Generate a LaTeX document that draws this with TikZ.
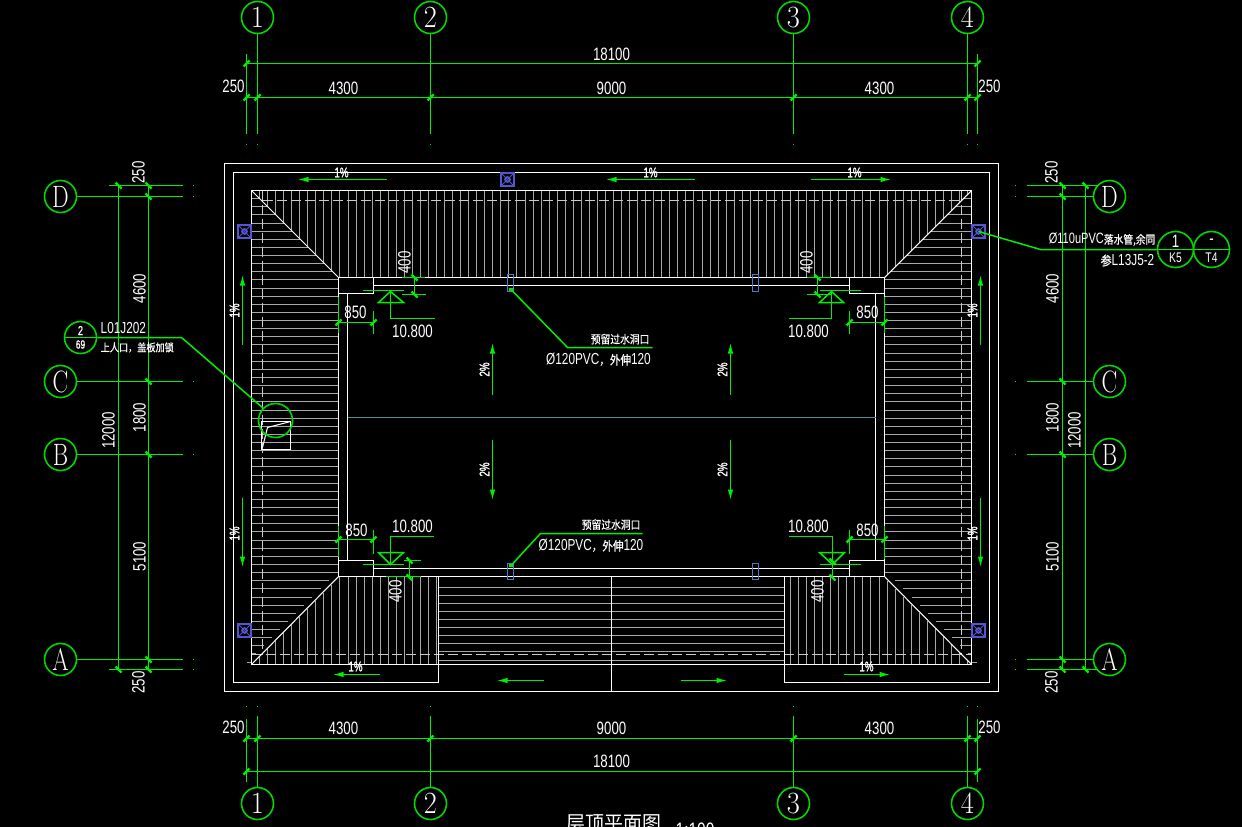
\documentclass[tikz,border=0pt]{standalone}
\usepackage{fontspec}
\usepackage{graphicx}
\usetikzlibrary{arrows.meta}
\newfontfamily\cadf[FakeStretch=0.74]{Liberation Sans}
\newfontfamily\cadb[FakeStretch=0.70,FakeBold=1.2]{Liberation Sans}
\newfontfamily\cjkf[FakeStretch=0.85,FakeBold=0.8]{Noto Sans CJK SC}
\newfontfamily\cjkt[FakeStretch=0.95]{Noto Sans CJK SC}
\newcommand{\dimf}{\cadf\fontsize{18}{18}\selectfont}
\newcommand{\smf}{\cadb\fontsize{14}{14}\selectfont}
\newcommand{\dg}[1]{\scalebox{.92}[1]{#1}}
\newcommand{\lt}[1]{\scalebox{.76}[1]{#1}}
\definecolor{gl}{HTML}{00EE00}
\definecolor{gc}{HTML}{00D800}
\definecolor{hatch}{HTML}{A8A8A8}
\definecolor{blu}{HTML}{5555D0}
\definecolor{pipeb}{HTML}{5078D0}
\definecolor{teal2}{HTML}{4F8F8F}
\tikzset{
 gline/.style={draw=gl,line width=1.5bp},
 wline/.style={draw=white,line width=1.05bp},
 hline/.style={draw=hatch,line width=1.05bp},
 dline/.style={draw=hatch!60!white,line width=1.05bp,dash pattern=on 10bp off 4bp},
 tk/.style={draw=gl,line width=2.4bp},
 axisc/.style={circle,draw=gc,line width=1.6bp,minimum size=32bp,inner sep=0pt,text=white,font=\fontsize{31}{31}\selectfont},
 dimt/.style={text=white,inner sep=0pt,font=\dimf},
 pct/.style={text=white,inner sep=0pt,font=\smf},
 notet/.style={text=white,inner sep=0pt},
 slope/.style={draw=gl,line width=1.5bp,-{Latex[length=11bp,width=5.5bp]}},
 blubox/.style={draw=blu,line width=1.2bp},
 pipe/.style={draw=pipeb,line width=1.05bp},
 dotm/.style={fill=gl},
}
\newcommand{\tkf}[2]{\draw[tk] (#1-3,#2+3) -- (#1+3,#2-3);}
\newcommand{\tkb}[2]{\draw[tk] (#1-3,#2-3) -- (#1+3,#2+3);}
\newcommand{\blue}[2]{\draw[blubox] (#1-6.5,#2-6.5) rectangle (#1+6.5,#2+6.5);
 \draw[blubox,line width=1bp] (#1-6.5,#2-6.5) -- (#1+6.5,#2+6.5) (#1-6.5,#2+6.5) -- (#1+6.5,#2-6.5);
 \draw[blubox,line width=1.4bp] (#1,#2) circle (2.6);}
\newcommand{\mydot}[2]{\fill[dotm] (#1-.7,#2-.7) rectangle (#1+.7,#2+.7);}
\begin{document}
\begin{tikzpicture}[x=1bp,y=-1bp]
\useasboundingbox (0,0) rectangle (1242,827);
\fill[black] (0,0) rectangle (1242,827);
\begin{scope}[shift={(0.5,0.5)}]
% --- hatching
\foreach \i in {1,...,89}{
 \pgfmathsetmacro\hx{round(251+8.045*\i)}
 \pgfmathsetmacro\ye{\hx<338 ? 190+(\hx-251) : (\hx>884 ? 190+(971-\hx) : 277)}
 \draw[hline] (\hx,190) -- (\hx,\ye);
 \pgfmathparse{(\hx<438 || \hx>784) ? 1 : 0}
 \ifnum\pgfmathresult>0
  \pgfmathsetmacro\ys{\hx<338 ? 664-(\hx-251) : (\hx>884 ? 664-(971-\hx) : 576)}
  \draw[hline] (\hx,\ys) -- (\hx,664);
 \fi
}
\foreach \i in {1,...,58}{
 \pgfmathsetmacro\hy{round(190+8.13*\i)}
 \pgfmathsetmacro\xa{\hy>576 ? 332-(\hy-576) : min(338,251+\hy-190)}
 \pgfmathsetmacro\xb{971-(\xa-251)}
 \draw[hline] (251,\hy) -- (\xa,\hy);
 \draw[hline] (\xb,\hy) -- (971,\hy);
}
\foreach \yy in {587,595,603,611,619,627,635,643,651,660}{
 \draw[hline] (438,\yy) -- (784,\yy);
}
\draw[dline] (262,200) -- (961,200);
\draw[dline] (251,654) -- (971,654);
\draw[dline] (262,190) -- (262,654);
\draw[dline] (961,190) -- (961,654);
% --- roof outlines
\draw[wline] (224,163) rectangle (998,691);
\draw[wline] (438,576) -- (438,682) -- (233,682) -- (233,172) -- (989,172) -- (989,682) -- (784,682) -- (784,576);
\draw[wline] (251,190) rectangle (971,664);
\draw[wline] (611,576) -- (611,691);
\draw[wline] (251,190) -- (338,277);
\draw[wline] (971,190) -- (884,277);
\draw[wline] (251,664) -- (338,576);
\draw[wline] (971,664) -- (884,576);
\draw[wline] (338,277) -- (884,277) -- (884,576) -- (338,576) -- cycle;
\draw[wline] (338,293) -- (373,293) -- (373,277);
\draw[wline] (884,293) -- (849,293) -- (849,277);
\draw[wline] (338,560) -- (373,560) -- (373,576);
\draw[wline] (884,560) -- (849,560) -- (849,576);
\draw[wline] (373,285) -- (849,285);
\draw[wline] (373,568) -- (849,568);
\draw[wline] (347,293) -- (347,560);
\draw[wline] (875,293) -- (875,560);
\draw[draw=teal2,line width=1.05bp] (347,417) -- (875,417);
% --- drains and pipes
\blue{507}{179}\blue{244}{231}\blue{978}{231}\blue{244}{630}\blue{978}{630}
\draw[pipe] (507,274) rectangle (513,291);
\draw[pipe] (752,274) rectangle (758,291);
\draw[pipe] (507,563) rectangle (513,579);
\draw[pipe] (752,563) rectangle (758,579);
% --- hatch opening
\draw[wline] (261,421) rectangle (290,449);
\draw[wline] (290,421) -- (267,427) -- (262,447);
% --- axis bubbles top
\foreach \nm/\xx/\lb in {t1/257/1,t2/430/2,t3/793/3,t4/967/4}{
 \node[axisc] (\nm) at (\xx,17) {\dg{\lb}};
 \draw[gline] (\nm.south) -- (\nm.south |- 0,133);
 \mydot{\xx}{144}
}
\foreach \nm/\xx/\lb in {b1/257/1,b2/430/2,b3/793/3,b4/967/4}{
 \node[axisc] (\nm) at (\xx,803) {\dg{\lb}};
 \draw[gline] (\nm.north) -- (\nm.north |- 0,715);
 \mydot{\xx}{706}
}
\mydot{246}{144}\mydot{977}{144}\mydot{246}{706}\mydot{977}{706}
\draw[gline] (246,53) -- (246,133);
\draw[gline] (977,53) -- (977,133);
\draw[gline] (246,718) -- (246,781);
\draw[gline] (977,718) -- (977,781);
% horizontal dimension lines
\draw[gline] (246,63) -- (977,63);
\draw[gline] (246,97) -- (977,97);
\draw[gline] (246,738) -- (977,738);
\draw[gline] (246,771) -- (977,771);
\foreach \yy in {63,771}{\tkf{246}{\yy}\tkf{977}{\yy}}
\foreach \yy in {97,738}{\foreach \xx in {246,257,430,793,967,977}{\tkf{\xx}{\yy}}}
\node[dimt] (d1) at (611,54) {18100};
\node[dimt] (d2) at (343,88) {4300};
\node[dimt] (d3) at (611,88) {9000};
\node[dimt] (d4) at (879,88) {4300};
\node[dimt] (d5) at (233,86) {250};
\node[dimt] (d6) at (989,86) {250};
\node[dimt] (d7) at (233,727) {250};
\node[dimt] (d8) at (343,728) {4300};
\node[dimt] (d9) at (611,728) {9000};
\node[dimt] (d10) at (879,728) {4300};
\node[dimt] (d11) at (989,727) {250};
\node[dimt] (d12) at (611,761) {18100};
% --- axis bubbles left / right
\foreach \nm/\yy/\lb in {lD/196/D,lC/381/C,lB/454/B,lA/659/A}{
 \node[axisc] (\nm) at (60,\yy) {\lt{\lb}};
 \draw[gline] (\nm.east) -- (182,\yy);
 \mydot{193}{\yy}
 \tkb{148}{\yy}
}
\foreach \nm/\yy/\lb in {rD/196/D,rC/381/C,rB/454/B,rA/659/A}{
 \node[axisc] (\nm) at (1109,\yy) {\lt{\lb}};
 \draw[gline] (\nm.west) -- (1026,\yy);
 \mydot{1015}{\yy}
 \tkb{1062}{\yy}
}
\draw[gline] (108,185) -- (182,185);
\draw[gline] (108,669) -- (182,669);
\draw[gline] (1026,185) -- (1097,185);
\draw[gline] (1026,669) -- (1097,669);
\mydot{193}{185}\mydot{193}{669}\mydot{1015}{185}\mydot{1015}{669}
\draw[gline] (118,185) -- (118,669);
\draw[gline] (148,185) -- (148,669);
\draw[gline] (1062,185) -- (1062,669);
\draw[gline] (1085,185) -- (1085,669);
\foreach \xx in {118,148,1062,1085}{\tkb{\xx}{185}\tkb{\xx}{669}}
\node[dimt,rotate=90] (e1) at (138,172) {250};
\node[dimt,rotate=90] (e2) at (139,288) {4600};
\node[dimt,rotate=90] (e3) at (139,417) {1800};
\node[dimt,rotate=90] (e4) at (139,556) {5100};
\node[dimt,rotate=90] (e5) at (138,682) {250};
\node[dimt,rotate=90] (e6) at (108,430) {12000};
\node[dimt,rotate=90] (f1) at (1051,172) {250};
\node[dimt,rotate=90] (f2) at (1052,288) {4600};
\node[dimt,rotate=90] (f3) at (1052,417) {1800};
\node[dimt,rotate=90] (f4) at (1052,556) {5100};
\node[dimt,rotate=90] (f5) at (1051,682) {250};
\node[dimt,rotate=90] (f6) at (1074,430) {12000};
% --- slope arrows
\draw[slope] (386,179) -- (297,179);
\draw[slope] (694,179) -- (605,179);
\draw[slope] (810,179) -- (891,179);
\node[pct] (p1) at (341,172) {1\%};
\node[pct] (p2) at (650,172) {1\%};
\node[pct] (p3) at (854,172) {1\%};
\draw[slope] (242,344) -- (242,274);
\draw[slope] (242,497) -- (242,567);
\draw[slope] (980,344) -- (980,274);
\draw[slope] (980,497) -- (980,567);
\node[pct,rotate=90] (p4) at (234,310) {1\%};
\node[pct,rotate=90] (p5) at (234,533) {1\%};
\node[pct,rotate=90] (p6) at (972,310) {1\%};
\node[pct,rotate=90] (p7) at (972,533) {1\%};
\draw[slope] (379,674) -- (332,674);
\draw[slope] (843,674) -- (890,674);
\draw[slope] (543,680) -- (496,680);
\draw[slope] (680,680) -- (727,680);
\node[pct] (p8) at (355,666) {1\%};
\node[pct] (p9) at (866,666) {1\%};
\draw[slope] (492,394) -- (492,342);
\draw[slope] (730,394) -- (730,342);
\draw[slope] (492,439) -- (492,500);
\draw[slope] (730,439) -- (730,500);
\node[pct,rotate=90] (q1) at (484,369) {2\%};
\node[pct,rotate=90] (q2) at (722,369) {2\%};
\node[pct,rotate=90] (q3) at (484,469) {2\%};
\node[pct,rotate=90] (q4) at (722,469) {2\%};
% --- elevations and 400 / 850 dims
\draw[gline] (362,290) -- (403,290);
\draw[gline] (390,291) -- (378,302) -- (403,302) -- cycle;
\draw[gline] (390,291) -- (390,318) -- (434,318);
\draw[gline] (401,277) -- (424,277) (401,294) -- (425,294) (414,277) -- (414,294);
\tkb{414}{277}\tkb{414}{294}
\node[dimt] (g1) at (412,331) {10.800};
\node[dimt,rotate=90] (g2) at (404,262) {400};
\draw[gline] (819,290) -- (860,290);
\draw[gline] (831,291) -- (819,302) -- (843,302) -- cycle;
\draw[gline] (831,291) -- (831,318) -- (788,318);
\draw[gline] (806,277) -- (830,277) (806,294) -- (830,294) (817,277) -- (817,294);
\tkb{817}{277}\tkb{817}{294}
\node[dimt] (g3) at (808,331) {10.800};
\node[dimt,rotate=90] (g4) at (806,262) {400};
\draw[gline] (362,564) -- (403,564);
\draw[gline] (390,564) -- (378,552) -- (403,552) -- cycle;
\draw[gline] (390,564) -- (390,536) -- (433,536);
\draw[gline] (403,560) -- (420,560) (385,576) -- (420,576) (409,560) -- (409,577);
\tkb{409}{560}\tkb{409}{577}
\node[dimt] (g5) at (412,526) {10.800};
\node[dimt,rotate=90] (g6) at (395,591) {400};
\draw[gline] (819,564) -- (860,564);
\draw[gline] (832,564) -- (819,552) -- (844,552) -- cycle;
\draw[gline] (832,564) -- (832,536) -- (788,536);
\draw[gline] (832,561) -- (832,577);
\tkb{832}{561}\tkb{832}{577}
\node[dimt] (g7) at (808,526) {10.800};
\node[dimt,rotate=90] (g8) at (817,591) {400};
% 850 dims
\draw[gline] (338,322) -- (373,322) (338,296) -- (338,332) (373,310) -- (373,333);
\tkf{338}{322}\tkf{373}{322}
\node[dimt] (h1) at (355,312) {850};
\draw[gline] (849,322) -- (884,322) (884,296) -- (884,332) (849,310) -- (849,333);
\tkf{849}{322}\tkf{884}{322}
\node[dimt] (h2) at (867,312) {850};
\draw[gline] (338,539) -- (373,539) (338,525) -- (338,556) (373,529) -- (373,553);
\tkf{338}{539}\tkf{373}{539}
\node[dimt] (h3) at (356,530) {850};
\draw[gline] (849,539) -- (884,539) (884,525) -- (884,558) (849,529) -- (849,553);
\tkf{849}{539}\tkf{884}{539}
\node[dimt] (h4) at (867,530) {850};
% --- notes
\coordinate (n1a) at (510.5,289); \coordinate (n1b) at (567,347); \coordinate (n1c) at (652,347);
\draw[gline] (n1a) -- (n1b) -- (n1c);
\fill[gl] (508.5,287) rectangle (512,290.5);
\node[notet,anchor=base east] (m1) at (649,343) {\cjkf\fontsize{11.5}{12}\selectfont 预留过水洞口};
\node[notet] (m2) at (598,359) {\cadf\fontsize{16}{16}\selectfont Ø120PVC{\cjkf\fontsize{12.5}{13}\selectfont ，外伸}120};
\coordinate (n2a) at (510.5,565); \coordinate (n2b) at (540,533); \coordinate (n2c) at (642,533);
\draw[gline] (n2a) -- (n2b) -- (n2c);
\fill[gl] (508.5,563) rectangle (512,566.5);
\node[notet,anchor=base east] (m3) at (640,528.5) {\cjkf\fontsize{11.5}{12}\selectfont 预留过水洞口};
\node[notet] (m4) at (590.5,545) {\cadf\fontsize{16}{16}\selectfont Ø120PVC{\cjkf\fontsize{12.5}{13}\selectfont ，外伸}120};
% left note
\node[draw=gc,line width=1.6bp,circle,minimum size=32bp,inner sep=0pt] (c1) at (80,337) {};
\draw[gline] (c1.west) -- (c1.east);
\node[notet,font=\cadb\fontsize{13}{13}\selectfont] (c1a) at (80,330) {2};
\node[notet,font=\cadb\fontsize{12}{12}\selectfont] (c1b) at (80,344) {69};
\node[draw=gc,line width=1.6bp,circle,minimum size=34bp,inner sep=0pt] (c2) at (275,420) {};
\coordinate (n3b) at (181,337);
\draw[gline] (c1.east) -- (n3b) -- (c2.135);
\node[notet,anchor=west] (m5) at (100,328) {\cadf\fontsize{16}{16}\selectfont L01J202};
\node[notet,anchor=west] (m6) at (100,347) {\cjkf\fontsize{10.8}{11}\selectfont 上人口，盖板加锁};
% right note
\node[draw=gc,line width=1.6bp,circle,minimum size=36bp,inner sep=0pt] (k1) at (1175,249) {};
\node[draw=gc,line width=1.6bp,circle,minimum size=36bp,inner sep=0pt] (k2) at (1211,249) {};
\draw[gline] (k1.west) -- (k2.east);
\node[notet,font=\cadf\fontsize{18}{18}\selectfont] (k1a) at (1175,241) {1};
\node[notet,font=\cadf\fontsize{14}{14}\selectfont] (k1b) at (1175,257) {K5};
\node[notet,font=\cadf\fontsize{18}{18}\selectfont] (k2a) at (1211,241) {-};
\node[notet,font=\cadf\fontsize{14}{14}\selectfont] (k2b) at (1211,257) {T4};
\coordinate (n4a) at (978,231); \coordinate (n4b) at (1040,249);
\draw[gline] (n4a) -- (n4b) -- (k1.west);
\node[notet,anchor=east] (m7) at (1155,239) {\cadf\fontsize{15}{16}\selectfont Ø110uPVC{\cjkf\fontsize{11.5}{11}\selectfont 落水管,余同}};
\node[notet,anchor=east] (m8) at (1154,260) {{\cjkf\fontsize{13}{13}\selectfont 参}\cadf\fontsize{16}{16}\selectfont L13J5-2};
% title (runs off the page)
\node[notet,anchor=base west] (tt) at (566,830) {\cjkt\fontsize{20}{22}\selectfont 层顶平面图};
\node[notet,anchor=base west] (ts) at (675,837) {\cadf\fontsize{21}{22}\selectfont 1:100};
\end{scope}
\end{tikzpicture}
\end{document}
